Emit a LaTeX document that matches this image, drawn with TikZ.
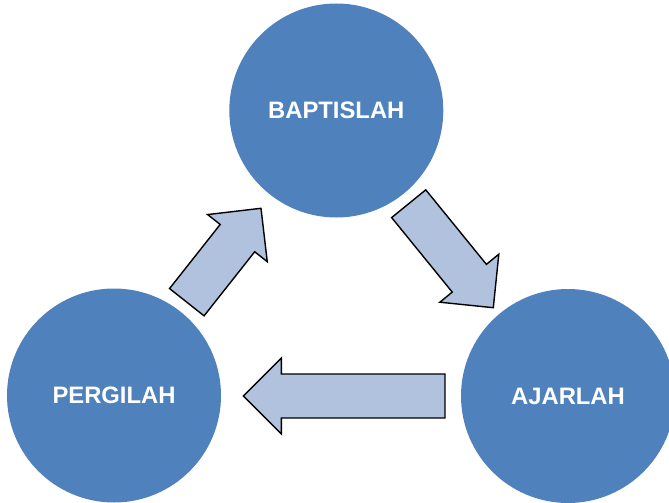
\documentclass[tikz,border=0pt]{standalone}
\usepackage{fontspec}
\setmainfont{Liberation Sans}
\usetikzlibrary{calc}
\definecolor{circblue}{HTML}{4F81BD}
\definecolor{arrowblue}{HTML}{B1C2DE}
\tikzset{
  stage/.style={circle, fill=circblue, draw=none, minimum size=214pt, inner sep=0pt,
    text=white, font=\fontsize{23.8}{26}\selectfont\bfseries},
  blockarr/.style={fill=arrowblue, draw=black, line width=1.4pt, line join=miter}
}
\newcommand{\myblockarrow}[2]{%
  \coordinate (n#1) at ($(#2)!38pt!(#1)$);
  \draw[blockarr]
    ($(#1)!22pt!90:(#2)$) -- ($(n#1)!22pt!90:(#2)$) -- ($(n#1)!38pt!90:(#2)$) --
    (#2) -- ($(n#1)!38pt!-90:(#2)$) -- ($(n#1)!22pt!-90:(#2)$) --
    ($(#1)!22pt!-90:(#2)$) -- cycle;}
\begin{document}
\begin{tikzpicture}[x=1pt,y=-1pt]
\useasboundingbox (0,0) rectangle (669,503);
\node[stage] (bap) at (336.3,110.5) {BAPTISLAH};
\node[stage] (per) at (114,395.5) {PERGILAH};
\node[stage] (aja) at (568,396) {AJARLAH};
% arrows
\coordinate (t1) at (408.7,203.7); \coordinate (h1) at (493.3,307.7);
\coordinate (t2) at (445,396);     \coordinate (h2) at (243.3,396);
\coordinate (t3) at (186.8,302.2); \coordinate (h3) at (261,208.3);
\myblockarrow{t1}{h1}
\myblockarrow{t2}{h2}
\myblockarrow{t3}{h3}
\end{tikzpicture}
\end{document}
